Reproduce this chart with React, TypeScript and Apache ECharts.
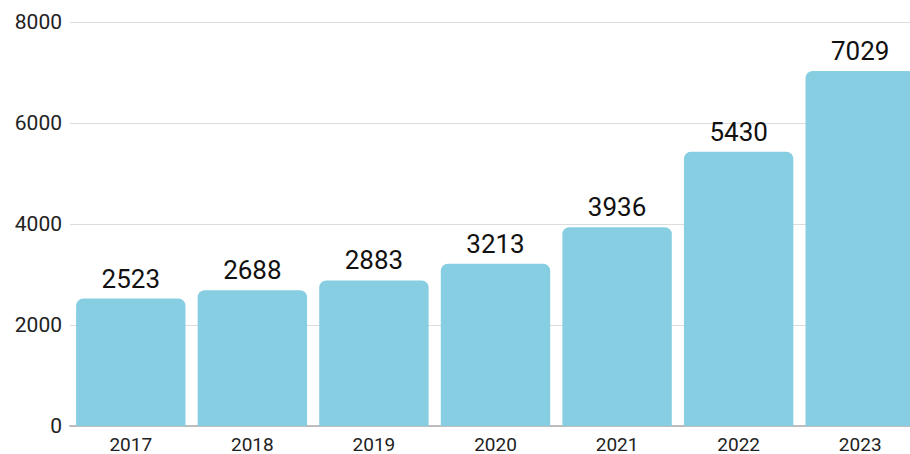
import React, { useEffect, useRef } from "react";
import * as echarts from "echarts";

const years = ["2017", "2018", "2019", "2020", "2021", "2022", "2023"];
const values = [2523, 2688, 2883, 3213, 3936, 5430, 7029];
const yMax = 8000;
const yInterval = 2000;

const FONT = "Roboto, 'Noto Sans', sans-serif";

export default function App() {
  const ref = useRef<HTMLDivElement>(null);
  useEffect(() => {
    document.body.style.margin = "0";
    document.body.style.overflow = "hidden";
    const chart = echarts.init(ref.current!, null, { renderer: "svg" });
    chart.setOption({
      animation: false,
      grid: { left: 70, top: 22, width: 851, bottom: 28, containLabel: false },
      xAxis: {
        type: "category",
        data: years,
        axisTick: { show: false },
        axisLine: { show: true, lineStyle: { color: "#bdbdbd", width: 2 } },
        axisLabel: {
          color: "#222",
          fontSize: 19,
          lineHeight: 18,
          fontFamily: FONT,
          margin: 9,
        },
      },
      yAxis: {
        type: "value",
        min: 0,
        max: yMax,
        interval: yInterval,
        axisLine: { show: false },
        axisTick: { show: false },
        splitLine: { lineStyle: { color: "#dcdcdc", width: 1 } },
        axisLabel: {
          color: "#222",
          fontSize: 21,
          fontFamily: FONT,
          margin: 8,
          formatter: (v: number) => String(v),
        },
      },
      series: [
        {
          type: "bar",
          data: values,
          barCategoryGap: "10%",
          itemStyle: { color: "#87CEE3", borderRadius: [7, 7, 0, 0] },
          label: {
            show: true,
            position: "top",
            distance: 7,
            color: "#111",
            fontSize: 26,
            fontFamily: FONT,
          },
        },
      ],
    });
    return () => chart.dispose();
  }, []);
  return (
    <div style={{ width: 910, height: 454, overflow: "hidden" }}>
      <div ref={ref} style={{ width: 940, height: 454 }} />
    </div>
  );
}
